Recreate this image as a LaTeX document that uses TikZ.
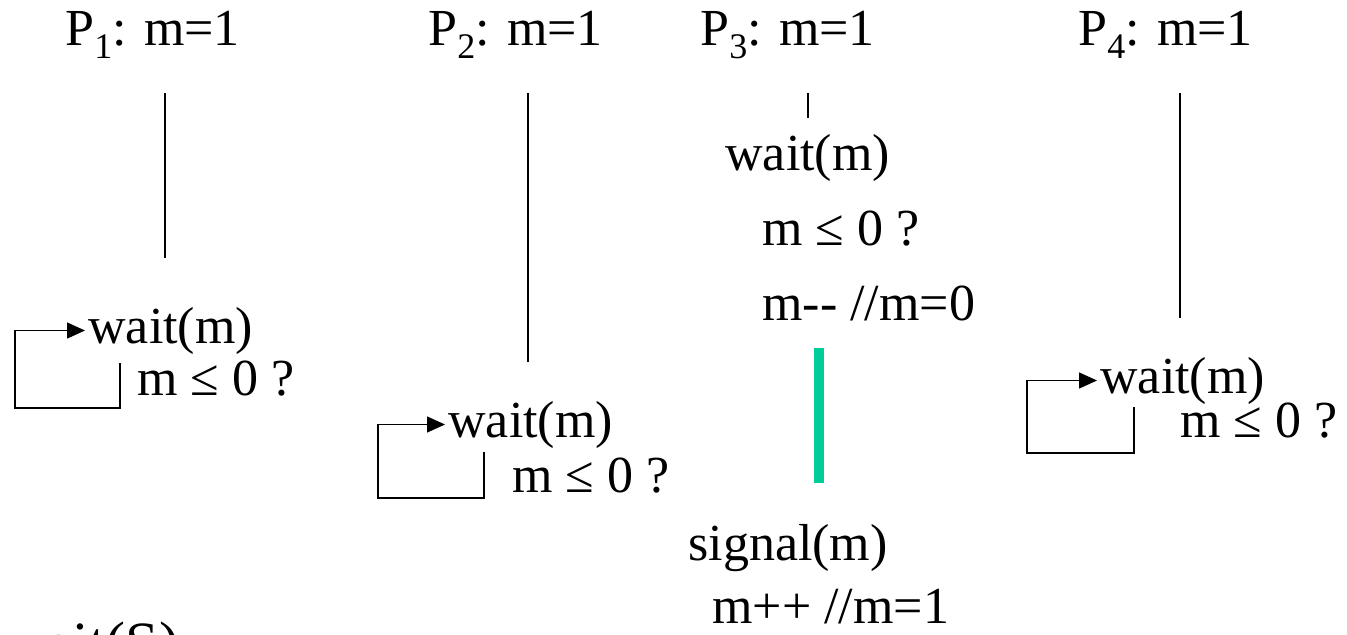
\documentclass[tikz,border=0pt]{standalone}
\usepackage{fontspec}
\setmainfont{Liberation Serif}
\usetikzlibrary{arrows.meta}
\definecolor{critgreen}{RGB}{0,204,153}
\newcommand{\procidx}[1]{\raisebox{-6.5pt}{\fontsize{18}{18}\selectfont #1}}

\begin{document}
\begin{tikzpicture}[x=0.5pt, y=-0.5pt,
    every node/.style={font=\fontsize{26}{31}\selectfont, inner sep=0pt},
    txt/.style={anchor=base west},
    life/.style={line width=0.7pt},
    loopback/.style={line width=0.7pt, -{Triangle[length=9pt, width=8pt]}, shorten >=1.5pt},
    crit/.style={line width=5pt, draw=critgreen}]

  \useasboundingbox (0,0) rectangle (1347,634);

  \node[txt] (p1) at (65,45) {P\procidx{1}: m=1};
  \node[txt] (p2) at (428,45) {P\procidx{2}: m=1};
  \node[txt] (p3) at (700,45) {P\procidx{3}: m=1};
  \node[txt] (p4) at (1078,45) {P\procidx{4}: m=1};

  \coordinate (t1) at (165,93);  \coordinate (e1) at (165,258);
  \coordinate (t2) at (528,93);  \coordinate (e2) at (528,362);
  \coordinate (t3) at (808,93);  \coordinate (e3) at (808,118);
  \coordinate (t4) at (1180,93); \coordinate (e4) at (1180,318);
  \draw[life] (t1) -- (e1);
  \draw[life] (t2) -- (e2);
  \draw[life] (t3) -- (e3);
  \draw[life] (t4) -- (e4);

  \node[txt] (w1) at (88,343) {wait(m)};
  \node[txt] (q1) at (137,395) {m ≤ 0 ?};
  \coordinate (r1) at (120,363); \coordinate (b1) at (15,408);
  \draw[loopback] (r1) |- (b1) |- (w1.west);

  \node[txt] (w2) at (448,437) {wait(m)};
  \node[txt] (q2) at (512,492) {m ≤ 0 ?};
  \coordinate (r2) at (484,452); \coordinate (b2) at (378,498);
  \draw[loopback] (r2) |- (b2) |- (w2.west);

  \node[txt] (w3) at (725,170) {wait(m)};
  \node[txt] (q3) at (762,245) {m ≤ 0 ?};
  \node[txt] (d3) at (762,320) {m-{}- //m=0};
  \coordinate (g1) at (819,348); \coordinate (g2) at (819,483);
  \draw[crit] (g1) -- (g2);
  \node[txt] (s3) at (688,560) {signal(m)};
  \node[txt] (i3) at (712,623) {m++ //m=1};

  \node[txt] (w4) at (1100,393) {wait(m)};
  \node[txt] (q4) at (1180,437) {m ≤ 0 ?};
  \coordinate (r4) at (1134,407); \coordinate (b4) at (1027,453);
  \draw[loopback] (r4) |- (b4) |- (w4.west);

  \node[txt, font=\fontsize{30}{36}\selectfont] (ws) at (2,663) {wait(S)};
\end{tikzpicture}
\end{document}
